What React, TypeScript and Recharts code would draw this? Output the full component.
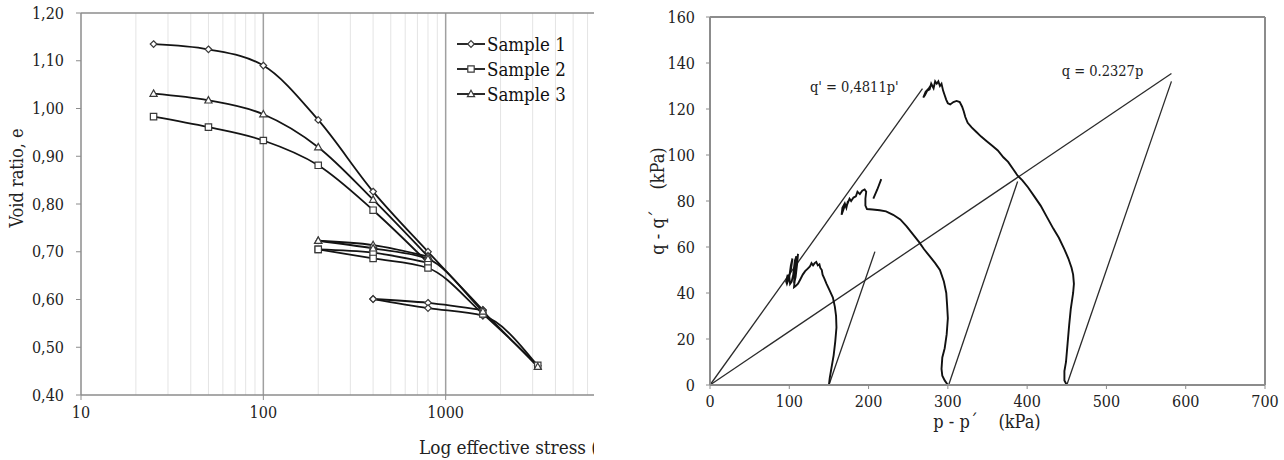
import { LineChart, Line, XAxis, YAxis, ReferenceLine, ReferenceDot, Legend, Label } from "recharts";

const FONT = "'DejaVu Serif Condensed', 'DejaVu Serif', serif";

// consolidation curves (left)
const s1Stress = [25, 50, 100, 200, 400, 800, 1600];
const s1Virgin = [1.135, 1.124, 1.09, 0.976, 0.826, 0.7, 0.578];
const s1LoopStress = [400, 800, 1600];
const s1Unload = [0.601, 0.593, 0.578];
const s1ReloadStress = [400, 800, 1600, 3200];
const s1Reload = [0.601, 0.582, 0.566, 0.461];

const s23Stress = [25, 50, 100, 200, 400, 800];
const s2Virgin = [0.983, 0.961, 0.933, 0.881, 0.787, 0.677];
const s3Virgin = [1.031, 1.017, 0.988, 0.919, 0.809, 0.69];
const s23LoopStress = [200, 400, 800];
const s2Unload = [0.705, 0.698, 0.677];
const s3Unload = [0.723, 0.714, 0.69];
const s23ReloadStress = [200, 400, 800, 1600, 3200];
const s2Reload = [0.705, 0.686, 0.666, 0.57, 0.462];
const s3Reload = [0.723, 0.707, 0.685, 0.575, 0.459];

const eTicks = [0.4, 0.5, 0.6, 0.7, 0.8, 0.9, 1.0, 1.1, 1.2];
const stressTicks = [10, 100, 1000, 10000];
const minorGrid = [20, 30, 40, 50, 60, 70, 80, 90, 200, 300, 400, 500, 600, 700, 800, 900, 2000, 3000, 4000, 5000, 6000, 7000, 8000, 9000];

// stress paths (right)
const failP = [0, 268];
const failQ = [0, 128.9];
const totalLineP = [0, 582];
const totalLineQ = [0, 135.4];

const tsp1P = [150, 208];
const tsp1Q = [0, 58];
const tsp2P = [301, 388];
const tsp2Q = [0, 88.5];
const tsp3P = [450, 582];
const tsp3Q = [0, 132];

const esp1P = [150, 151, 153, 156, 158, 159.5, 159, 157.5, 155, 151, 147, 144, 142, 141, 139, 138, 136, 134, 132, 130, 128, 126, 123, 120, 117, 114, 111, 108, 106, 107, 109, 111, 110, 108, 106, 107, 109, 107, 105, 103, 101, 100, 102, 104, 102, 99, 97, 96, 98];
const esp1Q = [0, 3, 7, 13, 19, 25, 30, 34, 38, 41, 44, 46.5, 48, 50, 51, 52.5, 52, 53.5, 53, 52, 53, 51.5, 50.5, 49.5, 48, 46, 44, 43, 42.5, 46, 51, 57, 53, 47, 44, 50, 56, 54, 48, 45, 44, 47, 52, 55, 50, 46, 44, 45, 48];

const esp2P = [300, 296, 293, 292, 293, 296, 298.5, 300, 299, 298, 295, 290, 284, 277, 270, 264, 256, 248, 240, 231, 222, 214, 205, 198, 196, 196, 197, 195, 192, 189, 186, 184, 181, 178, 176, 173, 170, 168, 166, 167, 170, 172, 174];
const esp2Q = [0, 2, 4, 7, 12, 16, 22, 29, 35, 40, 45, 50, 53, 56, 59, 62, 65.5, 69, 72, 74, 75.5, 76, 76.3, 76.5, 78, 81, 84, 85, 84.5, 83, 84, 82, 81.5, 80, 81, 78.5, 78, 76, 74, 77, 79, 77, 80];
const esp2TailP = [206, 211, 216];
const esp2TailQ = [81, 85, 89.5];

const esp3P = [450, 447, 447, 449, 451, 453, 455, 458, 459, 458, 456, 452, 447, 440, 433, 425, 417, 409, 401, 394, 388, 382, 376, 370, 363, 356, 349, 342, 336, 330, 325, 322, 320, 318, 315, 311, 307, 303, 300, 298, 296, 294, 292, 290, 288, 286, 284, 282, 279, 277, 274, 271, 269, 272, 276, 278];
const esp3Q = [0, 2, 6, 10, 18, 26, 33, 40, 44, 48, 51, 55, 59, 64, 68, 73, 78, 82, 86, 89, 91, 94, 97, 99, 102, 104, 106, 108, 110, 112, 114, 116.5, 119, 121, 123, 123.5, 123, 122, 122.5, 124, 126, 128, 131, 130, 132, 131, 132, 129, 131, 128.5, 128, 126, 125, 127.5, 129, 130];

const pTicks = [0, 100, 200, 300, 400, 500, 600, 700];
const qTicks = [0, 20, 40, 60, 80, 100, 120, 140, 160];

const zip = (xs: number[], ys: number[]) => xs.map((x, i) => ({ x, y: ys[i] }));
const zipPQ = (ps: number[], qs: number[]) => ps.map((p, i) => ({ p, q: qs[i] }));

const diamondPath = (cx: number, cy: number) => `M${cx},${cy - 3.3}L${cx + 3.3},${cy}L${cx},${cy + 3.3}L${cx - 3.3},${cy}Z`;
const squarePath = (cx: number, cy: number) => `M${cx - 3.2},${cy - 3.2}h6.4v6.4h-6.4Z`;
const trianglePath = (cx: number, cy: number) => `M${cx},${cy - 3.8}L${cx + 3.6},${cy + 2.6}L${cx - 3.6},${cy + 2.6}Z`;

const makeDot = (shape: (cx: number, cy: number) => string) => (props: any) => {
  const { cx, cy, index } = props;
  return <path key={`d-${index}-${cx}-${cy}`} d={shape(cx, cy)} fill="#fff" stroke="#3a3a3a" strokeWidth={1.2} />;
};

const samples = [
  { name: "Sample 1", shape: diamondPath },
  { name: "Sample 2", shape: squarePath },
  { name: "Sample 3", shape: trianglePath },
];

const axisGrey = "#8c8c8c";
const lineColor = "#141414";

function SampleLegend() {
  return (
    <div style={{ fontFamily: FONT, fontSize: 18.5, color: "#111" }}>
      {samples.map((s) => (
        <div key={s.name} style={{ display: "flex", alignItems: "center", height: 25 }}>
          <svg width={29} height={12} style={{ marginRight: 1 }}>
            <line x1={0} y1={6} x2={28} y2={6} stroke={lineColor} strokeWidth={1.8} />
            <path d={s.shape(14, 6)} fill="#fff" stroke="#3a3a3a" strokeWidth={1.2} />
          </svg>
          <span>{s.name}</span>
        </div>
      ))}
    </div>
  );
}

function VoidRatioChart() {
  const series = [
    { id: "s1v", data: zip(s1Stress, s1Virgin), shape: diamondPath },
    { id: "s1u", data: zip(s1LoopStress, s1Unload), shape: diamondPath },
    { id: "s1r", data: zip(s1ReloadStress, s1Reload), shape: diamondPath },
    { id: "s2v", data: zip(s23Stress, s2Virgin), shape: squarePath },
    { id: "s2u", data: zip(s23LoopStress, s2Unload), shape: squarePath },
    { id: "s2r", data: zip(s23ReloadStress, s2Reload), shape: squarePath },
    { id: "s3v", data: zip(s23Stress, s3Virgin), shape: trianglePath },
    { id: "s3u", data: zip(s23LoopStress, s3Unload), shape: trianglePath },
    { id: "s3r", data: zip(s23ReloadStress, s3Reload), shape: trianglePath },
  ];
  return (
    <div style={{ position: "absolute", left: 0, top: 0, width: 594, height: 460, overflow: "hidden" }}>
      <LineChart width={700} height={460} margin={{ top: 13, right: 72, bottom: 35, left: 0 }}>
        <XAxis
          dataKey="x"
          type="number"
          scale="log"
          domain={[10, 10000]}
          ticks={stressTicks}
          allowDataOverflow
          height={30}
          tickSize={5}
          tickMargin={7}
          tick={{ fontSize: 16, fontFamily: FONT, fill: "#222" }}
          tickLine={{ stroke: axisGrey }}
          axisLine={{ stroke: axisGrey, strokeWidth: 1.5 }}
        >
          <Label
            content={() => (
              <text x={419} y={454} fontFamily={FONT} fontSize={18.8} fill="#222">
                Log effective stress (kPa)
              </text>
            )}
          />
        </XAxis>
        <YAxis
          type="number"
          domain={[0.4, 1.2]}
          ticks={eTicks}
          width={81}
          tickSize={5}
          tickMargin={12}
          tickFormatter={(v: number) => v.toFixed(2).replace(".", ",")}
          tick={{ fontSize: 16, fontFamily: FONT, fill: "#222" }}
          tickLine={{ stroke: axisGrey }}
          axisLine={{ stroke: axisGrey, strokeWidth: 1.5 }}
        >
          <Label
            content={() => (
              <text x={16} y={178} transform="rotate(-90 16 178)" textAnchor="middle" dominantBaseline="central" fontFamily={FONT} fontSize={18} fill="#222">
                Void ratio, e
              </text>
            )}
          />
        </YAxis>
        {minorGrid.map((v) => (
          <ReferenceLine key={`m${v}`} x={v} stroke="#e4e4e4" strokeWidth={1} />
        ))}
        <ReferenceLine x={100} stroke="#a0a0a0" strokeWidth={1.5} />
        <ReferenceLine x={1000} stroke="#a0a0a0" strokeWidth={1.5} />
        <ReferenceLine y={1.2} stroke={axisGrey} strokeWidth={1.5} />
        {series.map((s) => (
          <Line
            key={s.id}
            data={s.data}
            dataKey="y"
            type="monotone"
            stroke={lineColor}
            strokeWidth={1.8}
            dot={makeDot(s.shape)}
            activeDot={false}
            legendType="none"
            isAnimationActive={false}
          />
        ))}
        <Legend
          layout="vertical"
          align="center"
          verticalAlign="middle"
          content={() => <SampleLegend />}
          wrapperStyle={{ left: 457, top: 31.5, width: 140 }}
        />
      </LineChart>
    </div>
  );
}

function StressPathChart() {
  const straight = [
    zipPQ(failP, failQ),
    zipPQ(totalLineP, totalLineQ),
    zipPQ(tsp1P, tsp1Q),
    zipPQ(tsp2P, tsp2Q),
    zipPQ(tsp3P, tsp3Q),
  ];
  const paths = [
    zipPQ(esp1P, esp1Q),
    zipPQ(esp2P, esp2Q),
    zipPQ(esp2TailP, esp2TailQ),
    zipPQ(esp3P, esp3Q),
  ];
  return (
    <div style={{ position: "absolute", left: 600, top: 0, width: 684, height: 460 }}>
      <LineChart width={684} height={460} margin={{ top: 17, right: 19, bottom: 45, left: 0 }}>
        <XAxis
          dataKey="p"
          type="number"
          domain={[0, 700]}
          ticks={pTicks}
          height={30}
          tickSize={4}
          tickMargin={7}
          tick={{ fontSize: 16, fontFamily: FONT, fill: "#222" }}
          tickLine={{ stroke: axisGrey }}
          axisLine={{ stroke: axisGrey, strokeWidth: 2 }}
        >
          <Label
            content={() => (
              <text x={387} y={428} textAnchor="middle" fontFamily={FONT} fontSize={18} fill="#222" style={{ whiteSpace: "pre" }}>
                {"p - p´    (kPa)"}
              </text>
            )}
          />
        </XAxis>
        <YAxis
          type="number"
          domain={[0, 160]}
          ticks={qTicks}
          width={110}
          tickSize={4}
          tickMargin={11}
          tick={{ fontSize: 16, fontFamily: FONT, fill: "#222" }}
          tickLine={{ stroke: axisGrey }}
          axisLine={{ stroke: axisGrey, strokeWidth: 2 }}
        >
          <Label
            content={() => (
              <text x={57} y={201} transform="rotate(-90 57 201)" textAnchor="middle" dominantBaseline="central" fontFamily={FONT} fontSize={18} fill="#222" style={{ whiteSpace: "pre" }}>
                {"q - q´    (kPa)"}
              </text>
            )}
          />
        </YAxis>
        <ReferenceLine y={160} stroke={axisGrey} strokeWidth={2} />
        <ReferenceLine x={700} stroke={axisGrey} strokeWidth={2} />
        {straight.map((d, i) => (
          <Line key={`s${i}`} data={d} dataKey="q" type="linear" stroke="#2a2a2a" strokeWidth={1.3} dot={false} activeDot={false} isAnimationActive={false} />
        ))}
        {paths.map((d, i) => (
          <Line key={`e${i}`} data={d} dataKey="q" type="linear" stroke="#111" strokeWidth={1.9} dot={false} activeDot={false} isAnimationActive={false} />
        ))}
        <ReferenceDot x={182} y={129.6} r={0} stroke="none" fill="none" label={{ value: "q' = 0,4811p'", position: "center", fontSize: 14.5, fontFamily: FONT, fill: "#222" }} />
        <ReferenceDot x={495} y={136.6} r={0} stroke="none" fill="none" label={{ value: "q = 0.2327p", position: "center", fontSize: 14.5, fontFamily: FONT, fill: "#222" }} />
      </LineChart>
    </div>
  );
}

export default function App() {
  return (
    <div style={{ position: "absolute", left: 0, top: 0, width: 1284, height: 460, background: "#fff", overflow: "hidden" }}>
      <VoidRatioChart />
      <StressPathChart />
    </div>
  );
}
